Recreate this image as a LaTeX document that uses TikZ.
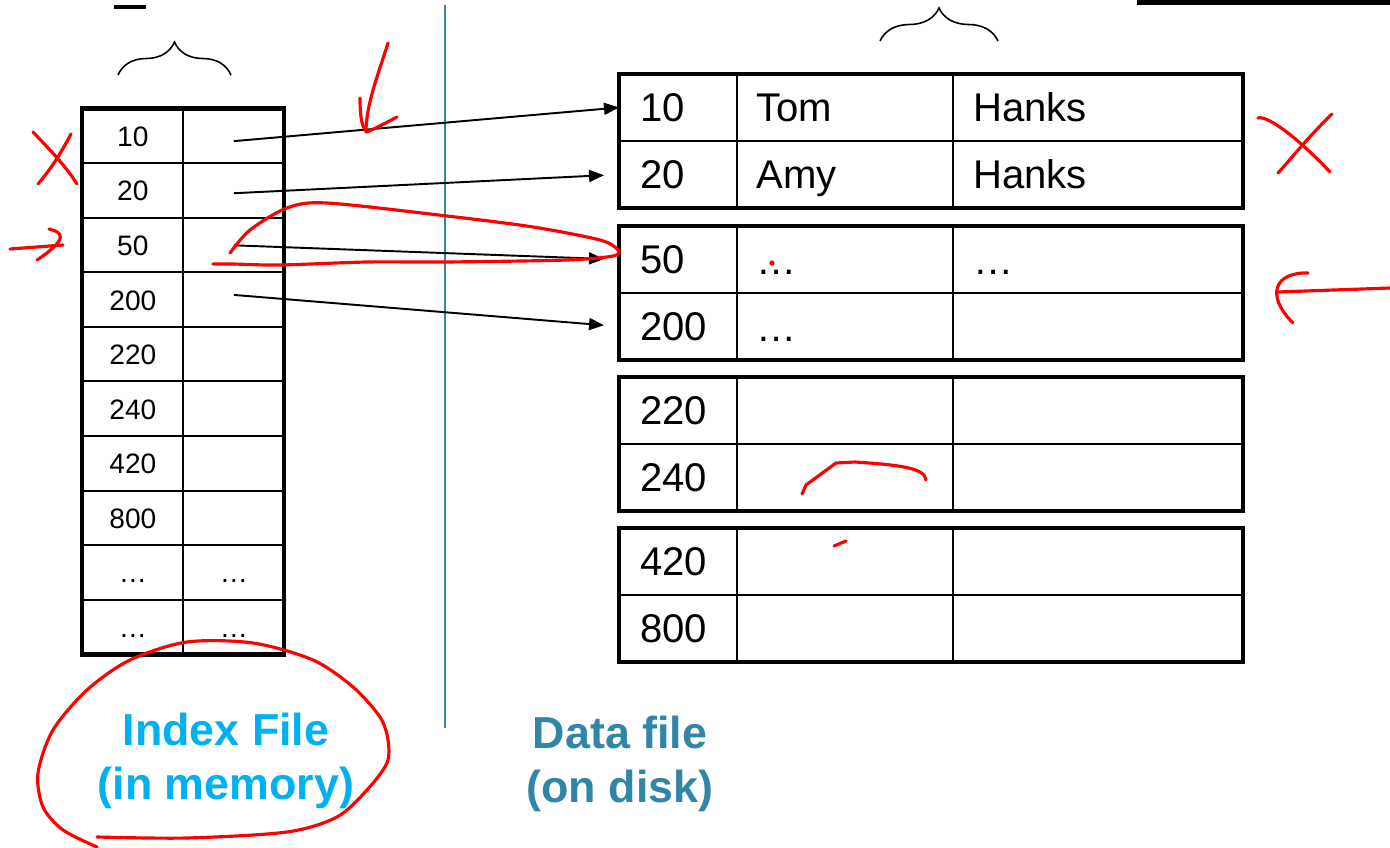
\documentclass[tikz,border=0pt]{standalone}
\usepackage{fontspec}
\setmainfont{Liberation Sans}
\usepackage{tikz}
\usetikzlibrary{matrix}
\usetikzlibrary{arrows.meta}
\usetikzlibrary{decorations.pathreplacing}

\definecolor{memblue}{RGB}{0,176,240}
\definecolor{diskblue}{RGB}{49,133,166}

\tikzset{
thickrim/.style={line width=2.8pt},
cellrule/.style={line width=1.1pt},
keycell/.style={anchor=west, inner sep=0pt, inner xsep=0.42cm, minimum height=1.34cm, font=\fontsize{22.8}{27}\selectfont},
fieldtext/.style={anchor=base west, inner sep=0pt, font=\fontsize{22.8}{27}\selectfont},
ptr/.style={-{Triangle[length=0.3cm,width=0.24cm]}, line width=1.1pt},
ink/.style={red, line width=1.8pt, line cap=round, line join=round},
filetitle/.style={align=center, font=\fontsize{25.5}{31}\selectfont\bfseries}
}

\begin{document}
\begin{tikzpicture}[x=0.02cm, y=-0.02cm]
\useasboundingbox (0,0) rectangle (1390,848);

\fill (114,5) rectangle (146,9);
\fill (1137,0) rectangle (1390,5);

\draw[decorate, decoration={brace, amplitude=0.66cm}, line width=0.9pt] (118,75) -- (231,75);
\draw[decorate, decoration={brace, amplitude=0.66cm}, line width=0.9pt] (880,41) -- (998,41);

\draw[cellrule, shift={(82,108.5)}, xstep=2.02cm, ystep=1.092cm] (0,546) grid (202,0);
\draw[thickrim] (82,108.5) rectangle (284,654.5);
\matrix (idx) [matrix of nodes, nodes in empty cells,
inner sep=0pt, row sep=0pt, column sep=0pt,
anchor=north west,
nodes={anchor=center, inner sep=0pt, outer sep=0pt, minimum width=2.02cm, minimum height=1.092cm, text height=11.5pt, text depth=0pt, font=\fontsize{16}{18}\selectfont}] at (82,108.5) {
10 & \\
20 & \\
50 & \\
200 & \\
220 & \\
240 & \\
420 & \\
800 & \\
… & … \\
… & … \\
};

\draw[diskblue, line width=1.1pt] (445,5) -- (445,728);

\foreach \blk/\ka/\na/\la/\kb/\nb/\lb in {74/10/Tom/Hanks/20/Amy/Hanks, 226/50/…/…/200/…/{}, 377/220/{}/{}/240/{}/{}, 528/420/{}/{}/800/{}/{}} {
\draw[cellrule] (619,\blk+67) -- (1243,\blk+67) (737,\blk) -- (737,\blk+134) (953,\blk) -- (953,\blk+134);
\draw[thickrim] (619,\blk) rectangle (1243,\blk+134);
\node[keycell] (k\ka) at (619,\blk+33.5) {\ka};
\node[keycell] (k\kb) at (619,\blk+100.5) {\kb};
\node[fieldtext] at (756,\blk+48) {\na};
\node[fieldtext] at (973,\blk+48) {\la};
\node[fieldtext] at (756,\blk+115) {\nb};
\node[fieldtext] at (973,\blk+115) {\lb};
}

\draw[ptr] ([yshift=-0.1cm]idx-1-2.center) -- (k10.west);
\draw[ptr, shorten >=0.3cm] ([yshift=-0.05cm]idx-2-2.center) -- (k20.west);
\draw[ptr, shorten >=0.3cm] (idx-3-2.center) -- (k50.west);
\draw[ptr, shorten >=0.3cm] ([yshift=0.1cm]idx-4-2.center) -- (k200.west);

\node[filetitle, memblue] (memlabel) at (226,761) {Index File\\(in memory)};
\node[filetitle, diskblue] (disklabel) at (620,764) {Data file\\(on disk)};

\draw[ink] (33,132) .. controls (50,150) and (65,165) .. (77,184);
\draw[ink] (71,134) .. controls (60,155) and (50,170) .. (38,184);
\draw[ink] (10,249) -- (63,245);
\draw[ink] (49,229) .. controls (62,232) and (70,238) .. (37,260);
\draw[ink] (388,43) .. controls (378,75) and (366,105) .. (366,132);
\draw[ink] (360,98) .. controls (360,118) and (362,128) .. (367,132) .. controls (380,126) .. (397,117);
\draw[ink] plot[smooth] coordinates {(230,253) (250,230) (287,208) (327,203) (447,216) (533,227) (600,240) (618,250) (613,256) (567,260) (447,262) (367,262) (280,265) (233,264) (213,264)};
\draw[ink] (1258,118) .. controls (1268,115) and (1300,140) .. (1330,172);
\draw[ink] (1332,114) .. controls (1310,135) and (1290,160) .. (1278,173);
\draw[ink] (1390,288) -- (1278,292);
\draw[ink] (1308,273) .. controls (1275,272) and (1265,295) .. (1293,323);
\draw[ink] (802,494) -- (806,485) -- (836,463) -- (855,462) .. controls (900,465) and (925,468) .. (926,480);
\draw[ink] (834,546) -- (846,541);
\fill[red] (772,263) circle[radius=1.5pt];
\draw[ink] plot[smooth] coordinates {(97,837) (187,838) (287,832) (337,817) (367,790) (387,763) (388,740) (380,717) (353,687) (313,660) (253,643) (187,642) (130,660) (87,690) (53,730) (38,773) (43,807) (63,830) (97,847)};
\end{tikzpicture}
\end{document}
